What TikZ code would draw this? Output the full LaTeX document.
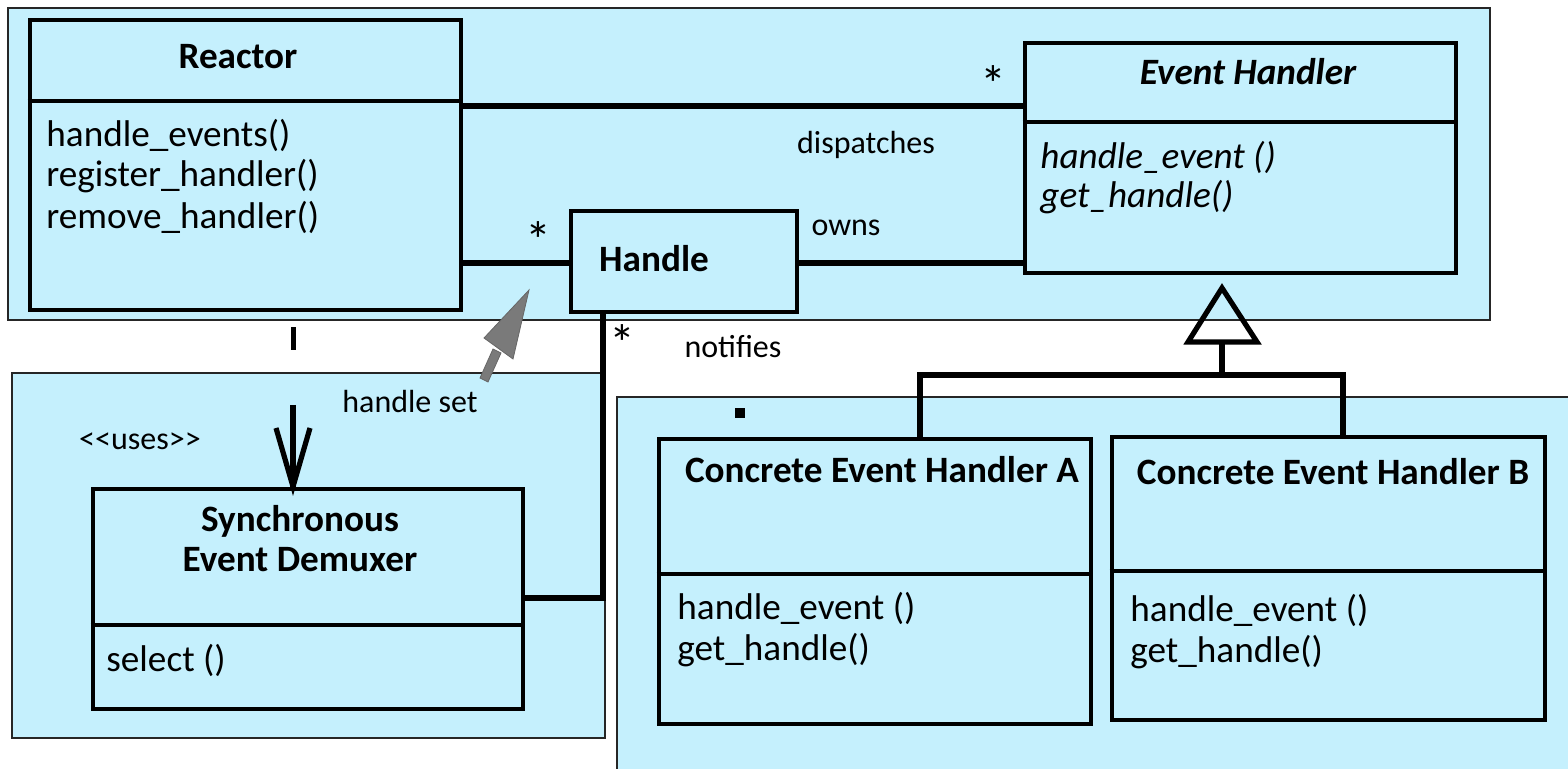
\documentclass[tikz,border=0pt]{standalone}
\usepackage{fontspec}
\setmainfont{Carlito}
\usetikzlibrary{fit}
\definecolor{panelc}{RGB}{197,240,253}
\tikzset{
  panel/.style={draw=black!85, line width=1.2pt, fill=panelc, inner sep=0pt},
  umlbox/.style={draw=black, line width=2.4pt, fill=panelc, inner sep=0pt},
  divider/.style={draw=black, line width=2pt},
  conn/.style={draw=black, line width=2.6pt},
  txt/.style={inner sep=0pt, anchor=west, font=\fontsize{18.6}{22}\selectfont},
  ittxt/.style={inner sep=0pt, anchor=west, font=\itshape\fontsize{18.6}{22}\selectfont},
  ttl/.style={inner sep=0pt, font=\bfseries\fontsize{18.6}{22}\selectfont, align=center},
  lbl/.style={inner sep=0pt, font=\fontsize{16}{19}\selectfont},
  star/.style={inner sep=0pt, font=\fontsize{26}{30}\selectfont},
  hatch/.style={fill=black!52, draw=black!60, line width=0.4pt}
}
\begin{document}
\begin{tikzpicture}[x=0.5pt,y=-0.5pt]
\useasboundingbox (0,0) rectangle (1568,769);
% panels
\node[panel, fit={(8,8) (1490,320)}] (ptop) {};
\node[panel, fit={(12,373) (605,738)}] (pleft) {};
\node[panel, fit={(617,397) (1575,775)}] (pright) {};
% Reactor
\node[umlbox, fit={(30,20) (461,310)}] (reactor) {};
\draw[divider] (reactor.west |- 0,101) -- (reactor.east |- 0,101);
\node[ttl] (reactorT) at (238,57) {Reactor};
\node[txt] (r1) at (46,135) {handle\_events()};
\node[txt] (r2) at (46,176) {register\_handler()};
\node[txt] (r3) at (46,217) {remove\_handler()};
% Event Handler
\node[umlbox, fit={(1025,43) (1456,273)}] (eh) {};
\draw[divider] (eh.west |- 0,122) -- (eh.east |- 0,122);
\node[ttl, font=\bfseries\itshape\fontsize{18.6}{22}\selectfont] (ehT) at (1248,72) {Event Handler};
\node[ittxt] (e1) at (1040,157) {handle\_event ()};
\node[ittxt] (e2) at (1040,197) {get\_handle()};
% Handle
\node[umlbox, fit={(571,211) (797,312)}] (handle) {};
\node[ttl] (handleT) at (654,259) {Handle};
% Demuxer
\node[umlbox, fit={(93,489) (523,709)}] (demux) {};
\draw[divider] (demux.west |- 0,625) -- (demux.east |- 0,625);
\node[ttl] (demuxT1) at (300,521) {Synchronous};
\node[ttl] (demuxT2) at (300,560) {Event Demuxer};
\node[txt] (d1) at (106,660) {select ()};
% Concrete A
\node[umlbox, fit={(659,439) (1091,724)}] (ca) {};
\draw[divider] (ca.west |- 0,574) -- (ca.east |- 0,574);
\node[ttl] (caT) at (882,470) {Concrete Event Handler A};
\node[txt] (a1) at (677,608) {handle\_event ()};
\node[txt] (a2) at (677,650) {get\_handle()};
% Concrete B
\node[umlbox, fit={(1112,437) (1545,720)}] (cb) {};
\draw[divider] (cb.west |- 0,571) -- (cb.east |- 0,571);
\node[ttl] (cbT) at (1333,472) {Concrete Event Handler B};
\node[txt] (b1) at (1130,610) {handle\_event ()};
\node[txt] (b2) at (1130,652) {get\_handle()};
% associations
\draw[conn] (reactor.east |- 0,106) -- (eh.west |- 0,106);
\node[star] (s1) at (993,84) {*};
\node[lbl] (dispatches) at (866,145) {dispatches};
\draw[conn] (reactor.east |- 0,263) -- (handle.west |- 0,263);
\node[star] (s2) at (538,240) {*};
\draw[conn] (handle.east |- 0,263) -- (eh.west |- 0,263);
\node[lbl] (owns) at (846,228) {owns};
\coordinate (bend) at (603,598);
\draw[conn] (handle.south -| bend) -- (bend) -- (demux.east |- bend);
\node[star] (s3) at (622,343) {*};
\node[lbl] (notifies) at (733,347) {notifies};
% uses arrow
\coordinate (usesTop) at (293,405);
\draw[conn] (usesTop) -- (demux.north -| usesTop);
\draw[conn, line join=miter] (276,428) -- (demux.north -| usesTop) -- (310,428);
\node[lbl] (uses) at (140,441) {{<}{<}uses{>}{>}};
\fill (290.5,327) rectangle (295.5,350);
% handle set arrow
\node[lbl] (hset) at (410,402) {handle set};
\filldraw[hatch] (529,290) -- (484,338) -- (513,359) -- cycle;
\filldraw[hatch] (493,349) -- (501,353) -- (488,382) -- (480,378) -- cycle;
% inheritance
\coordinate (tip) at (1222,288);
\coordinate (junc) at (1222,375);
\draw[conn, line join=miter] (tip) -- (1188,342) -- (1257,342) -- cycle;
\draw[conn] (1222,342) -- (junc);
\draw[conn] (ca.north -| 920,0) -- (920,375) -- (1343,375) -- (cb.north -| 1343,0);
\fill (735,408) rectangle (745,418);
\end{tikzpicture}
\end{document}
